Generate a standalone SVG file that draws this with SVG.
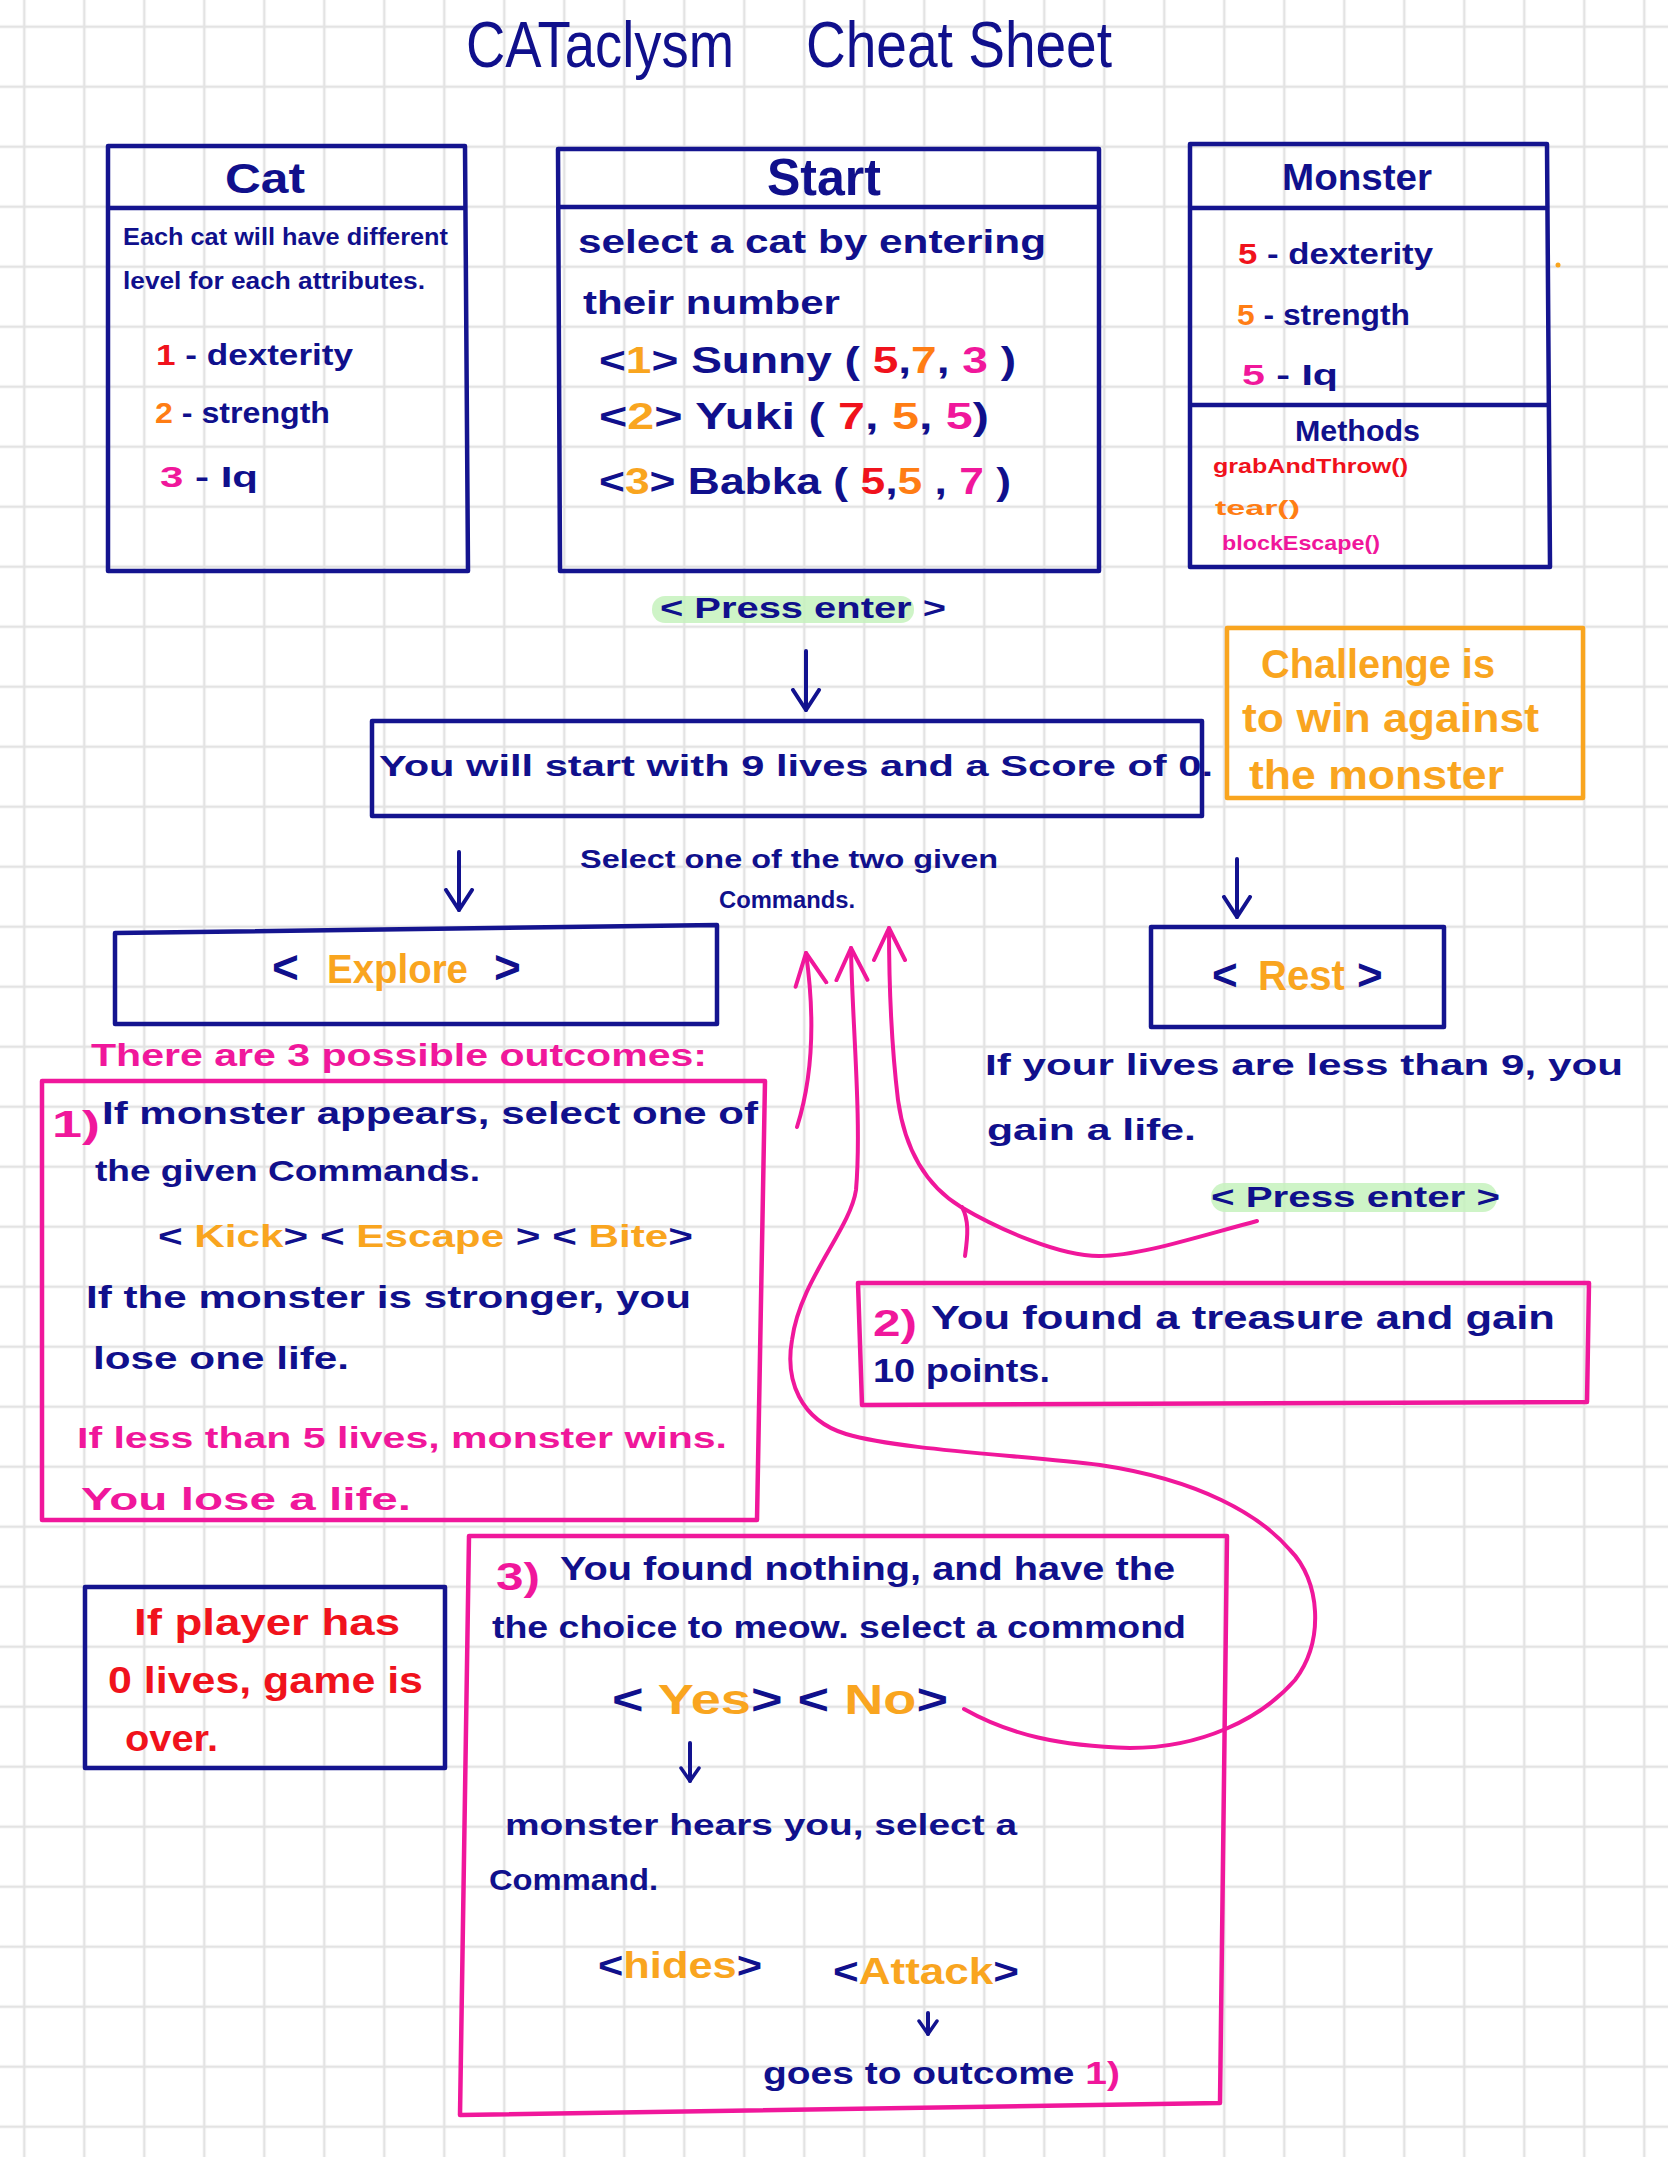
<svg xmlns="http://www.w3.org/2000/svg" width="1668" height="2157" viewBox="0 0 1668 2157">
<defs>
<pattern id="grid" patternUnits="userSpaceOnUse" x="-5.7" y="-3.3" width="60" height="60">
<path d="M30 0 V60 M0 30 H60" stroke="#e3e3e3" stroke-width="2.5" fill="none"/>
</pattern>
<marker id="va" markerUnits="userSpaceOnUse" markerWidth="30" markerHeight="32" refX="22" refY="16" orient="auto">
<path d="M2 3 L22 16 L2 29" fill="none" stroke="#12128f" stroke-width="4" stroke-linecap="round" stroke-linejoin="round"/>
</marker>
<marker id="vs" markerUnits="userSpaceOnUse" markerWidth="20" markerHeight="24" refX="15" refY="12" orient="auto">
<path d="M2 3 L15 12 L2 21" fill="none" stroke="#12128f" stroke-width="3.5" stroke-linecap="round" stroke-linejoin="round"/>
</marker>
<marker id="pa" markerUnits="userSpaceOnUse" markerWidth="40" markerHeight="40" refX="34" refY="20" orient="auto">
<path d="M2 5 L34 20 L2 36" fill="none" stroke="#f0179b" stroke-width="4" stroke-linecap="round" stroke-linejoin="round"/>
</marker>
</defs>
<style>
text{font-family:"Liberation Sans",Arial,sans-serif;font-weight:bold;fill:#10108c}
.ti{font-weight:normal}
.r{fill:#f0121c}
.o{fill:#ff7d14}
.y{fill:#f9a51f}
.p{fill:#f0179b}
.nb{fill:none;stroke:#14148f;stroke-width:4.5;stroke-linejoin:round}
.pb{fill:none;stroke:#f0179b;stroke-width:4.5;stroke-linejoin:round}
.ob{fill:none;stroke:#f9a51f;stroke-width:4.5;stroke-linejoin:round}
.nl{fill:none;stroke:#12128f;stroke-width:4;stroke-linecap:round}
.pl{fill:none;stroke:#f0179b;stroke-width:4;stroke-linecap:round;stroke-linejoin:round}
.hl{fill:#c6f2bd;opacity:0.85}
</style>
<rect x="0" y="0" width="1668" height="2157" fill="#ffffff"/>
<rect x="0" y="0" width="1668" height="2157" fill="url(#grid)"/>

<g id="title">
<text class="ti" x="466" y="67" font-size="64" textLength="268" lengthAdjust="spacingAndGlyphs">CATaclysm</text>
<text class="ti" x="806" y="67" font-size="64" textLength="306" lengthAdjust="spacingAndGlyphs">Cheat Sheet</text>
</g>

<g id="cat">
<path class="nb" d="M108 146 L465 146 L468 571 L108 571 Z M108 208 L465 208"/>
<text x="225" y="193" font-size="42" textLength="80" lengthAdjust="spacingAndGlyphs">Cat</text>
<text x="123" y="245" font-size="23" textLength="325" lengthAdjust="spacingAndGlyphs">Each cat will have different</text>
<text x="123" y="289" font-size="23" textLength="302" lengthAdjust="spacingAndGlyphs">level for each attributes.</text>
<text x="156" y="365" font-size="30" textLength="197" lengthAdjust="spacingAndGlyphs"><tspan class="r">1</tspan> - dexterity</text>
<text x="155" y="423" font-size="30" textLength="175" lengthAdjust="spacingAndGlyphs"><tspan class="o">2</tspan> - strength</text>
<text x="160" y="487" font-size="30" textLength="98" lengthAdjust="spacingAndGlyphs"><tspan class="p">3</tspan> - Iq</text>
</g>

<g id="start">
<path class="nb" d="M558 149 L1099 149 L1099 571 L560 571 Z M558 207 L1099 207"/>
<text x="767" y="195" font-size="52" textLength="114" lengthAdjust="spacingAndGlyphs">Start</text>
<text x="578" y="253" font-size="33" textLength="468" lengthAdjust="spacingAndGlyphs">select a cat by entering</text>
<text x="583" y="314" font-size="33" textLength="257" lengthAdjust="spacingAndGlyphs">their number</text>
<text x="599" y="373" font-size="36" textLength="417" lengthAdjust="spacingAndGlyphs">&lt;<tspan class="y">1</tspan>&gt; Sunny ( <tspan class="r">5</tspan>,<tspan class="o">7</tspan>, <tspan class="p">3</tspan> )</text>
<text x="599" y="429" font-size="36" textLength="390" lengthAdjust="spacingAndGlyphs">&lt;<tspan class="y">2</tspan>&gt; Yuki ( <tspan class="r">7</tspan>, <tspan class="o">5</tspan>, <tspan class="p">5</tspan>)</text>
<text x="599" y="494" font-size="36" textLength="412" lengthAdjust="spacingAndGlyphs">&lt;<tspan class="y">3</tspan>&gt; Babka ( <tspan class="r">5</tspan>,<tspan class="o">5</tspan> , <tspan class="p">7</tspan> )</text>
</g>

<g id="monster">
<path class="nb" d="M1190 144 L1547 144 L1550 567 L1190 567 Z M1190 208 L1547 208 M1192 405 L1547 405"/>
<text x="1282" y="190" font-size="37" textLength="150" lengthAdjust="spacingAndGlyphs">Monster</text>
<text x="1238" y="264" font-size="30" textLength="195" lengthAdjust="spacingAndGlyphs"><tspan class="r">5</tspan> - dexterity</text>
<text x="1237" y="325" font-size="30" textLength="173" lengthAdjust="spacingAndGlyphs"><tspan class="o">5</tspan> - strength</text>
<text x="1242" y="385" font-size="30" textLength="96" lengthAdjust="spacingAndGlyphs"><tspan class="p">5</tspan> - Iq</text>
<text x="1295" y="441" font-size="29" textLength="125" lengthAdjust="spacingAndGlyphs">Methods</text>
<text class="r" x="1213" y="473" font-size="21" textLength="195" lengthAdjust="spacingAndGlyphs">grabAndThrow()</text>
<text class="o" x="1215" y="515" font-size="21" textLength="85" lengthAdjust="spacingAndGlyphs">tear()</text>
<text class="p" x="1222" y="550" font-size="21" textLength="158" lengthAdjust="spacingAndGlyphs">blockEscape()</text>
<circle cx="1558" cy="265" r="2.5" fill="#f9a51f"/>
</g>

<g id="press-enter-1">
<rect class="hl" x="652" y="596" width="262" height="27" rx="13"/>
<text x="660" y="618" font-size="29" textLength="286" lengthAdjust="spacingAndGlyphs">&lt; Press  enter &gt;</text>
</g>

<g id="start-state">
<rect class="nb" x="372" y="721" width="830" height="95"/>
<text x="379" y="776" font-size="30" textLength="834" lengthAdjust="spacingAndGlyphs">You will start with 9 lives and a Score of 0.</text>
</g>

<g id="challenge">
<rect class="ob" x="1227" y="628" width="356" height="170"/>
<text class="y" x="1261" y="678" font-size="40" textLength="234" lengthAdjust="spacingAndGlyphs">Challenge is</text>
<text class="y" x="1242" y="732" font-size="40" textLength="297" lengthAdjust="spacingAndGlyphs">to win against</text>
<text class="y" x="1249" y="789" font-size="40" textLength="255" lengthAdjust="spacingAndGlyphs">the monster</text>
</g>

<g id="select-label">
<text x="580" y="868" font-size="25" textLength="418" lengthAdjust="spacingAndGlyphs">Select one of the two given</text>
<text x="719" y="908" font-size="23" textLength="136" lengthAdjust="spacingAndGlyphs">Commands.</text>
</g>

<g id="explore">
<path class="nb" d="M115 933 L717 925 L717 1024 L115 1024 Z"/>
<text x="272" y="983" font-size="46">&lt;</text>
<text class="y" x="327" y="983" font-size="40" textLength="141" lengthAdjust="spacingAndGlyphs">Explore</text>
<text x="494" y="983" font-size="46">&gt;</text>
</g>

<g id="rest">
<rect class="nb" x="1151" y="927" width="293" height="100"/>
<text x="1212" y="990" font-size="44">&lt;</text>
<text class="y" x="1258" y="990" font-size="42" textLength="87" lengthAdjust="spacingAndGlyphs">Rest</text>
<text x="1357" y="990" font-size="44">&gt;</text>
</g>

<g id="outcomes-label">
<text class="p" x="91" y="1066" font-size="31" textLength="616" lengthAdjust="spacingAndGlyphs">There are 3 possible outcomes:</text>
</g>

<g id="outcome-1">
<path class="pb" d="M42 1081 L765 1081 L757 1520 L42 1520 Z"/>
<text class="p" x="52" y="1137" font-size="36" textLength="48" lengthAdjust="spacingAndGlyphs">1)</text>
<text x="102" y="1124" font-size="32" textLength="656" lengthAdjust="spacingAndGlyphs">If monster appears, select one of</text>
<text x="95" y="1181" font-size="30" textLength="385" lengthAdjust="spacingAndGlyphs">the given Commands.</text>
<text x="158" y="1247" font-size="32" textLength="535" lengthAdjust="spacingAndGlyphs">&lt; <tspan class="y">Kick</tspan>&gt;  &lt; <tspan class="y">Escape</tspan> &gt;  &lt; <tspan class="y">Bite</tspan>&gt;</text>
<text x="86" y="1308" font-size="32" textLength="605" lengthAdjust="spacingAndGlyphs">If the  monster is stronger, you</text>
<text x="93" y="1369" font-size="32" textLength="256" lengthAdjust="spacingAndGlyphs">lose one life.</text>
<text class="p" x="77" y="1448" font-size="30" textLength="650" lengthAdjust="spacingAndGlyphs">If less than 5 lives, monster wins.</text>
<text class="p" x="81" y="1510" font-size="32" textLength="330" lengthAdjust="spacingAndGlyphs">You lose a life.</text>
</g>

<g id="rest-info">
<text x="985" y="1075" font-size="29" textLength="638" lengthAdjust="spacingAndGlyphs">If your lives are less than 9, you</text>
<text x="987" y="1140" font-size="29" textLength="209" lengthAdjust="spacingAndGlyphs">gain a life.</text>
<rect class="hl" x="1211" y="1183" width="286" height="29" rx="14"/>
<text x="1211" y="1207" font-size="29" textLength="289" lengthAdjust="spacingAndGlyphs">&lt; Press enter  &gt;</text>
</g>

<g id="outcome-2">
<path class="pb" d="M858 1283 L1589 1283 L1587 1402 L862 1405 Z"/>
<text class="p" x="873" y="1336" font-size="36" textLength="44" lengthAdjust="spacingAndGlyphs">2)</text>
<text x="931" y="1329" font-size="33" textLength="624" lengthAdjust="spacingAndGlyphs">You found a treasure and gain</text>
<text x="873" y="1382" font-size="33" textLength="177" lengthAdjust="spacingAndGlyphs">10 points.</text>
</g>

<g id="game-over">
<rect class="nb" x="85" y="1587" width="360" height="181"/>
<text class="r" x="134" y="1635" font-size="37" textLength="266" lengthAdjust="spacingAndGlyphs">If player has</text>
<text class="r" x="108" y="1693" font-size="37" textLength="315" lengthAdjust="spacingAndGlyphs">0 lives, game is</text>
<text class="r" x="125" y="1751" font-size="37" textLength="93" lengthAdjust="spacingAndGlyphs">over.</text>
</g>

<g id="outcome-3">
<path class="pb" d="M469 1536 L1227 1536 L1220 2103 L460 2115 Z"/>
<text class="p" x="496" y="1590" font-size="38" textLength="44" lengthAdjust="spacingAndGlyphs">3)</text>
<text x="560" y="1580" font-size="33" textLength="615" lengthAdjust="spacingAndGlyphs">You found nothing, and have the</text>
<text x="492" y="1638" font-size="31" textLength="694" lengthAdjust="spacingAndGlyphs">the choice to meow. select a commond</text>
<text x="612" y="1714" font-size="42" textLength="336" lengthAdjust="spacingAndGlyphs">&lt; <tspan class="y">Yes</tspan>&gt;  &lt; <tspan class="y">No</tspan>&gt;</text>
<text x="505" y="1835" font-size="30" textLength="512" lengthAdjust="spacingAndGlyphs">monster hears you, select a</text>
<text x="489" y="1890" font-size="30" textLength="169" lengthAdjust="spacingAndGlyphs">Command.</text>
<text x="598" y="1978" font-size="36" textLength="164" lengthAdjust="spacingAndGlyphs">&lt;<tspan class="y">hides</tspan>&gt;</text>
<text x="833" y="1984" font-size="36" textLength="186" lengthAdjust="spacingAndGlyphs">&lt;<tspan class="y">Attack</tspan>&gt;</text>
<text x="763" y="2084" font-size="31" textLength="357" lengthAdjust="spacingAndGlyphs">goes to outcome <tspan class="p">1)</tspan></text>
</g>

<g id="connectors">
<path class="nl" d="M806 651 L806 710" marker-end="url(#va)"/>
<path class="nl" d="M459 852 L459 910" marker-end="url(#va)"/>
<path class="nl" d="M1237 859 L1237 917" marker-end="url(#va)"/>
<path class="nl" d="M690 1743 L690 1781" marker-end="url(#vs)"/>
<path class="nl" d="M928 2013 L928 2034" marker-end="url(#vs)"/>
<path class="pl" d="M797 1127 C 815 1070, 814 1010, 806 953" marker-end="url(#pa)"/>
<path class="pl" d="M964 1709 C 1010 1735, 1060 1746, 1130 1748 C 1200 1748, 1260 1720, 1295 1680 C 1325 1640, 1320 1580, 1290 1550 C 1260 1515, 1200 1480, 1100 1465 C 1020 1455, 900 1450, 846 1434 C 800 1420, 785 1380, 792 1340 C 800 1280, 850 1230, 856 1190 C 862 1120, 852 1020, 851 948" marker-end="url(#pa)"/>
<path class="pl" d="M1257 1221 C 1200 1236, 1140 1256, 1099 1256 C 1060 1256, 1000 1230, 961 1207 C 925 1185, 905 1150, 898 1100 C 892 1050, 889 990, 889 928" marker-end="url(#pa)"/>
<path class="pl" d="M965 1256 C 968 1235, 969 1220, 962 1207"/>
</g>
</svg>
